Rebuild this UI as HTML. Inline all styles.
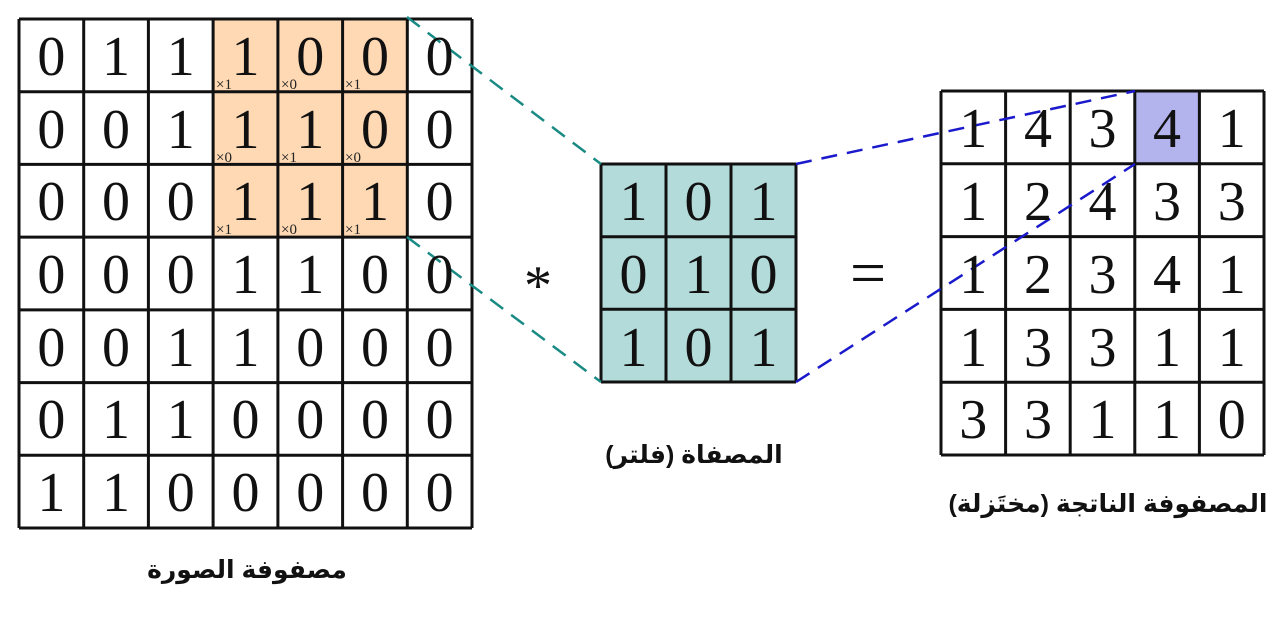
<!DOCTYPE html>
<html><head><meta charset="utf-8"><style>
html,body{margin:0;padding:0;background:#fff;width:1283px;height:617px;overflow:hidden}
svg{display:block}
.d{font-family:"Liberation Serif",serif;font-size:56px;fill:#111;text-anchor:middle}
.s{font-family:"Liberation Serif",serif;font-size:15px;fill:#222}
.ar{font-family:"Liberation Sans","DejaVu Sans",sans-serif;font-weight:bold;font-size:25px;fill:#111;text-anchor:middle}
</style></head><body>
<svg width="1283" height="617" viewBox="0 0 1283 617" xmlns="http://www.w3.org/2000/svg">
<rect x="213" y="19" width="194" height="218" fill="#fed9b4"/>
<rect x="601" y="164" width="195" height="218" fill="#b3dbd9"/>
<rect x="1135" y="91" width="65" height="73" fill="#b3b3ee"/>
<g stroke="#111" stroke-width="3" fill="none">
<path d="M19 19V528M83.7 19V528M148.4 19V528M213.1 19V528M277.9 19V528M342.6 19V528M407.3 19V528M472 19V528"/>
<path d="M19 19H472M19 91.7H472M19 164.4H472M19 237.1H472M19 309.9H472M19 382.6H472M19 455.3H472M19 528H472"/>
<path d="M601 164V382M666 164V382M731 164V382M796 164V382M601 164H796M601 236.7H796M601 309.3H796M601 382H796"/>
<path d="M941 91V455M1005.6 91V455M1070.2 91V455M1134.8 91V455M1199.4 91V455M1264 91V455"/>
<path d="M941 91H1264M941 163.8H1264M941 236.6H1264M941 309.4H1264M941 382.2H1264M941 455H1264"/>
</g>
<g stroke="#1a8a84" stroke-width="2.5" stroke-dasharray="16,10" fill="none">
<path d="M407 17L601 164"/><path d="M407 237L601 382"/>
</g>
<g stroke="#1a1acc" stroke-width="2.5" stroke-dasharray="16,10" fill="none">
<path d="M796 164L1135 91"/><path d="M796 382L1135 164"/>
</g>
<g class="d">
<text x="51.4" y="75">0</text><text x="116" y="75">1</text><text x="180.8" y="75">1</text><text x="245.5" y="75">1</text><text x="310.2" y="75">0</text><text x="375" y="75">0</text><text x="439.6" y="75">0</text>
<text x="51.4" y="148">0</text><text x="116" y="148">0</text><text x="180.8" y="148">1</text><text x="245.5" y="148">1</text><text x="310.2" y="148">1</text><text x="375" y="148">0</text><text x="439.6" y="148">0</text>
<text x="51.4" y="220">0</text><text x="116" y="220">0</text><text x="180.8" y="220">0</text><text x="245.5" y="220">1</text><text x="310.2" y="220">1</text><text x="375" y="220">1</text><text x="439.6" y="220">0</text>
<text x="51.4" y="293">0</text><text x="116" y="293">0</text><text x="180.8" y="293">0</text><text x="245.5" y="293">1</text><text x="310.2" y="293">1</text><text x="375" y="293">0</text><text x="439.6" y="293">0</text>
<text x="51.4" y="366">0</text><text x="116" y="366">0</text><text x="180.8" y="366">1</text><text x="245.5" y="366">1</text><text x="310.2" y="366">0</text><text x="375" y="366">0</text><text x="439.6" y="366">0</text>
<text x="51.4" y="438">0</text><text x="116" y="438">1</text><text x="180.8" y="438">1</text><text x="245.5" y="438">0</text><text x="310.2" y="438">0</text><text x="375" y="438">0</text><text x="439.6" y="438">0</text>
<text x="51.4" y="511">1</text><text x="116" y="511">1</text><text x="180.8" y="511">0</text><text x="245.5" y="511">0</text><text x="310.2" y="511">0</text><text x="375" y="511">0</text><text x="439.6" y="511">0</text>
<text x="633.5" y="220">1</text><text x="698.5" y="220">0</text><text x="763.5" y="220">1</text>
<text x="633.5" y="293">0</text><text x="698.5" y="293">1</text><text x="763.5" y="293">0</text>
<text x="633.5" y="366">1</text><text x="698.5" y="366">0</text><text x="763.5" y="366">1</text>
<text x="973.3" y="147">1</text><text x="1038" y="147">4</text><text x="1102.5" y="147">3</text><text x="1167" y="147">4</text><text x="1231.7" y="147">1</text>
<text x="973.3" y="220">1</text><text x="1038" y="220">2</text><text x="1102.5" y="220">4</text><text x="1167" y="220">3</text><text x="1231.7" y="220">3</text>
<text x="973.3" y="293">1</text><text x="1038" y="293">2</text><text x="1102.5" y="293">3</text><text x="1167" y="293">4</text><text x="1231.7" y="293">1</text>
<text x="973.3" y="366">1</text><text x="1038" y="366">3</text><text x="1102.5" y="366">3</text><text x="1167" y="366">1</text><text x="1231.7" y="366">1</text>
<text x="973.3" y="438">3</text><text x="1038" y="438">3</text><text x="1102.5" y="438">1</text><text x="1167" y="438">1</text><text x="1231.7" y="438">0</text>
<text x="538" y="304" style="font-size:56px">*</text>
<text x="868" y="294" style="font-size:64px">=</text>
</g>
<g class="s">
<text x="216" y="89">×1</text><text x="281" y="89">×0</text><text x="345" y="89">×1</text>
<text x="216" y="162">×0</text><text x="281" y="162">×1</text><text x="345" y="162">×0</text>
<text x="216" y="234">×1</text><text x="281" y="234">×0</text><text x="345" y="234">×1</text>
</g>
<text class="ar" x="247" y="578" direction="rtl">مصفوفة الصورة</text>
<text class="ar" x="694" y="463" direction="rtl">المصفاة (فلتر)</text>
<text class="ar" x="1108" y="512" direction="rtl">المصفوفة الناتجة (مختَزلة)</text>
</svg>
</body></html>
